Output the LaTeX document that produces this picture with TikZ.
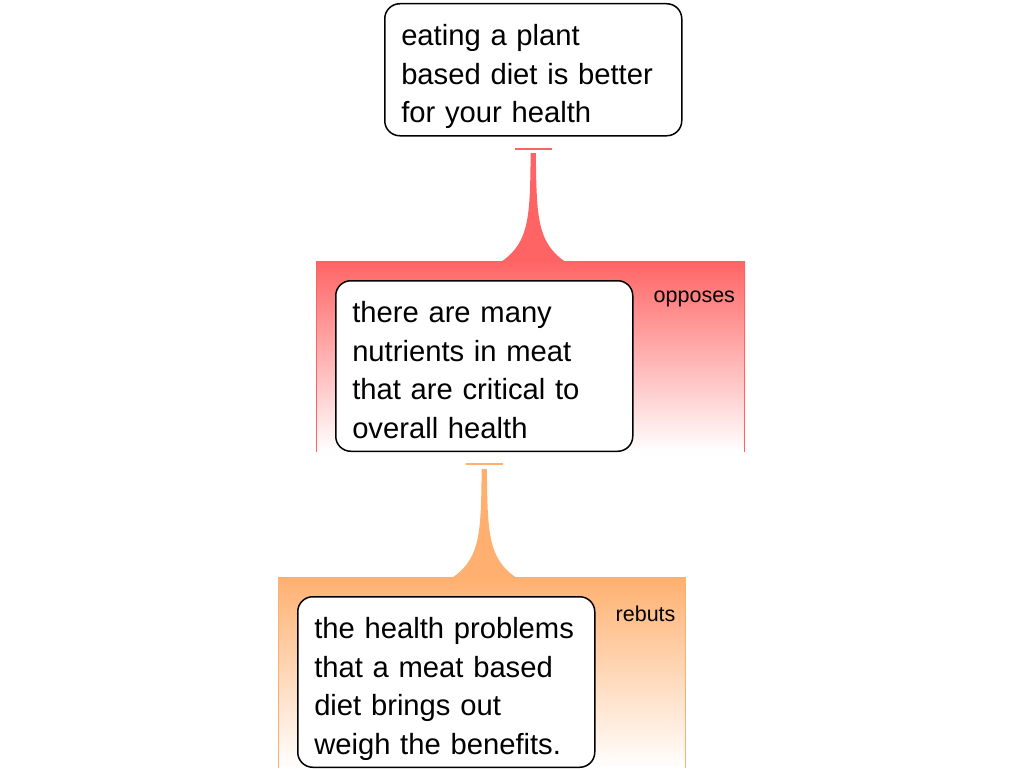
\documentclass[tikz,border=0pt]{standalone}
\usepackage{fontspec}
\setmainfont{Liberation Sans}
\usetikzlibrary{calc,backgrounds}
\definecolor{cred}{RGB}{255,100,100}
\definecolor{corange}{RGB}{255,176,112}
\newcommand{\drawconn}[4]{%
  \coordinate (#2tl) at ($(#2.north west)+(-19,-19)$);
  \coordinate (#2br) at ($(#3.east |- #2.south)+(10,0)$);
  \coordinate (#2fl) at (#1.south |- #2tl);
  \shade[top color=#4, bottom color=white] (#2tl) rectangle (#2br);
  \draw[#4, line width=1pt] ($(#2tl)+(0.5,0)$) -- ($(#2tl |- #2br)+(0.5,0)$);
  \draw[#4, line width=1pt] ($(#2br |- #2tl)+(-0.5,0)$) -- ($(#2br)+(-0.5,0)$);
  \begin{scope}[shift={(#2fl)}]
    \fill[#4] plot[domain=108:-1,samples=60] ({-2.5-28.5*exp(-\x/20)},{-\x})
      -- plot[domain=-1:108,samples=60] ({2.5+28.5*exp(-\x/20)},{-\x}) -- cycle;
  \end{scope}
  \draw[#4, line width=2pt] ($(#1.south)+(-18.5,12)$) -- ($(#1.south)+(18.5,12)$);
}
\begin{document}
\begin{tikzpicture}[x=1pt,y=-1pt,
  claim/.style={draw=black, line width=1.5pt, rounded corners=15pt, fill=white,
    text width=264pt, inner xsep=16.5pt, inner ysep=0pt, align=left,
    anchor=north west, font=\fontsize{29.2}{38.5}\selectfont},
  rel/.style={anchor=west, inner sep=0pt, font=\fontsize{21.5}{25}\selectfont}]
\useasboundingbox (0,0) rectangle (1024,768);
\node[claim] (a) at (384,3) {\rule{0pt}{42pt}eating a plant\\based diet is better\\for your health\rule[-13pt]{0pt}{13pt}};
\node[claim] (b) at (335,280) {\rule{0pt}{42pt}there are many\\nutrients in meat\\that are critical to\\overall health\rule[-13pt]{0pt}{13pt}};
\node[claim] (c) at (297,596) {\rule{0pt}{42pt}the health problems\\that a meat based\\diet brings out\\weigh the benefits.\rule[-13pt]{0pt}{13pt}};
\node[rel] (l1) at ($(b.north east)+(20,19)$) {opposes};
\node[rel] (l2) at ($(c.north east)+(20,18)$) {rebuts};
\begin{pgfonlayer}{background}
  \drawconn{a}{b}{l1}{cred}
  \drawconn{b}{c}{l2}{corange}
\end{pgfonlayer}
\end{tikzpicture}
\end{document}
